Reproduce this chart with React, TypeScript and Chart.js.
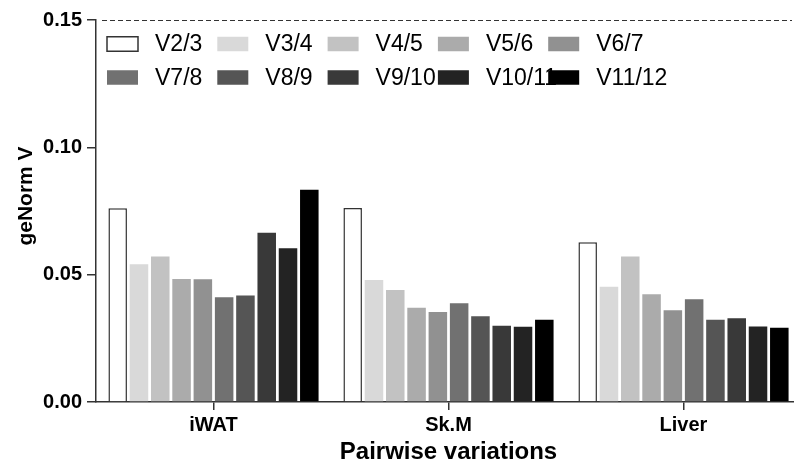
import React, { useEffect, useRef } from "react";
import { Chart, registerables } from "chart.js";

Chart.register(...registerables);

const categories = ["iWAT", "Sk.M", "Liver"];
const seriesLabels = ["V2/3", "V3/4", "V4/5", "V5/6", "V6/7", "V7/8", "V8/9", "V9/10", "V10/11", "V11/12"];
const seriesColors = ["#ffffff", "#d9d9d9", "#c2c2c2", "#ababab", "#919191", "#717171", "#555555", "#393939", "#232323", "#000000"];

const v23 = [0.0761, 0.0762, 0.0627];
const v34 = [0.0541, 0.0479, 0.0453];
const v45 = [0.0571, 0.044, 0.0571];
const v56 = [0.0483, 0.037, 0.0423];
const v67 = [0.0482, 0.0353, 0.036];
const v78 = [0.0411, 0.0388, 0.0403];
const v89 = [0.0418, 0.0337, 0.0323];
const v910 = [0.0665, 0.0299, 0.0329];
const v1011 = [0.0604, 0.0295, 0.0296];
const v1112 = [0.0833, 0.0323, 0.0292];

const seriesValues = [v23, v34, v45, v56, v67, v78, v89, v910, v1011, v1112];

const yTicks = [0, 0.05, 0.1, 0.15];
const cutoff = 0.15;
const yTitle = "geNorm V";
const xTitle = "Pairwise variations";

const FONT = "'Liberation Sans', Arial, sans-serif";
const AXIS = "#333333";

const legendPlugin = {
  id: "gridLegend",
  afterDraw(chart: any) {
    const { ctx, chartArea } = chart;
    ctx.save();
    ctx.font = `23px ${FONT}`;
    ctx.textBaseline = "middle";
    ctx.textAlign = "left";
    chart.data.datasets.forEach((ds: any, i: number) => {
      const col = i % 5;
      const row = Math.floor(i / 5);
      const x = chartArea.left + 11 + col * 110.3;
      const cy = chartArea.top + 24 + row * 33.5;
      const bw = 31;
      const bh = 14.5;
      ctx.fillStyle = ds.backgroundColor;
      ctx.fillRect(x, cy - bh / 2, bw, bh);
      if (i === 0) {
        ctx.strokeStyle = AXIS;
        ctx.lineWidth = 1.5;
        ctx.strokeRect(x, cy - bh / 2, bw, bh);
      }
      ctx.fillStyle = "#000";
      ctx.fillText(ds.label, x + 48, cy + 1);
    });
    // y-axis title
    ctx.save();
    ctx.translate(18, chartArea.top + 176);
    ctx.rotate(-Math.PI / 2);
    ctx.font = `bold 21px ${FONT}`;
    ctx.textAlign = "center";
    ctx.textBaseline = "middle";
    ctx.fillStyle = "#000";
    ctx.fillText(yTitle, 0, 0);
    ctx.restore();
    ctx.restore();
  },
};

const cutoffPlugin = {
  id: "cutoffLine",
  afterDatasetsDraw(chart: any) {
    const { ctx, chartArea, scales } = chart;
    const y = scales.y.getPixelForValue(cutoff);
    ctx.save();
    ctx.strokeStyle = AXIS;
    ctx.lineWidth = 1;
    ctx.setLineDash([5, 3]);
    ctx.beginPath();
    ctx.moveTo(chartArea.left + 6, y + 0.5);
    ctx.lineTo(chartArea.right - 9, y + 0.5);
    ctx.stroke();
    ctx.restore();
  },
};

export default function App() {
  const ref = useRef<HTMLCanvasElement | null>(null);
  useEffect(() => {
    if (!ref.current) return;
    const chart = new Chart(ref.current, {
      type: "bar",
      data: {
        labels: categories,
        datasets: seriesLabels.map((label, i) => ({
          label,
          data: seriesValues[i],
          backgroundColor: seriesColors[i],
          borderColor: AXIS,
          borderWidth: i === 0 ? 1.5 : 0,
          categoryPercentage: 0.906,
          barPercentage: 0.87,
        })),
      },
      options: {
        responsive: false,
        animation: false,
        layout: { padding: { top: 8, right: 1, left: 0, bottom: 0 } },
        plugins: {
          legend: { display: false },
          tooltip: { enabled: false },
        },
        scales: {
          x: {
            offset: true,
            grid: { offset: false, drawOnChartArea: false, tickLength: 8, color: AXIS, lineWidth: 1.5 },
            border: { color: AXIS, width: 1.5 },
            ticks: { color: "#000", font: { family: FONT, size: 20, weight: "bold" }, padding: 3 },
            title: {
              display: true,
              text: xTitle,
              color: "#000",
              font: { family: FONT, size: 24, weight: "bold", lineHeight: 1.2 },
              padding: { top: 0, bottom: 1 },
            },
            afterFit: (s: any) => {
              s.height = 66;
            },
          },
          y: {
            min: 0,
            max: 0.15,
            afterBuildTicks: (s: any) => {
              s.ticks = yTicks.map((v) => ({ value: v }));
            },
            grid: { drawOnChartArea: false, tickLength: 9, color: AXIS, lineWidth: 1.5 },
            border: { color: AXIS, width: 1.5 },
            ticks: {
              color: "#000",
              padding: 5,
              font: { family: FONT, size: 20, weight: "bold", lineHeight: 0.7 },
              callback: (v: any) => Number(v).toFixed(2),
            },
            afterFit: (s: any) => {
              s.width = 88;
            },
          },
        },
      },
      plugins: [legendPlugin, cutoffPlugin],
    });
    return () => chart.destroy();
  }, []);
  return (
    <div style={{ width: 794, height: 460 }}>
      <canvas ref={ref} width={794} height={460} style={{ display: "block" }} />
    </div>
  );
}
